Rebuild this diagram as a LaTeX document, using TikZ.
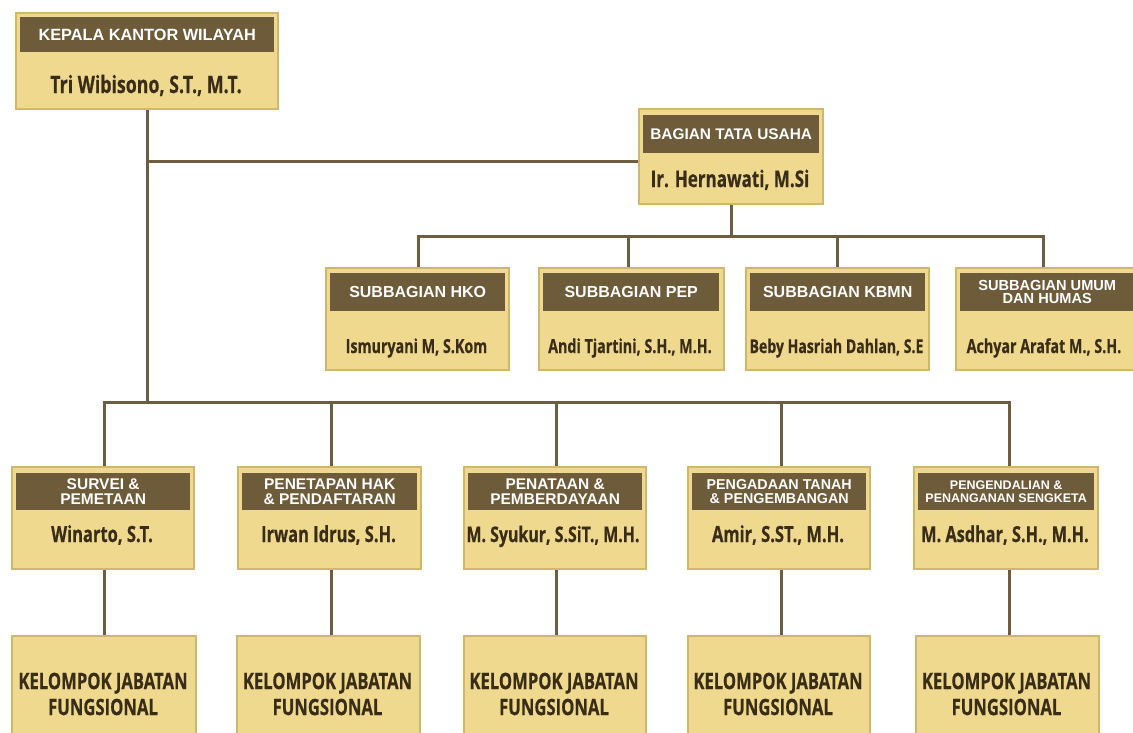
\documentclass[tikz,border=0pt]{standalone}
\usepackage{fontspec}
\setmainfont{Liberation Sans}
\newfontfamily\namefam[FakeStretch=0.74, BoldFeatures={FakeBold=0.5}]{Open Sans}
\usetikzlibrary{backgrounds}
\definecolor{boxfill}{HTML}{EFD98F}
\definecolor{boxline}{HTML}{D1B76B}
\definecolor{hdrfill}{HTML}{6E5B39}
\definecolor{linecol}{HTML}{6E5D40}
\definecolor{txtdark}{HTML}{3A2D17}
\newcommand\hdrsize[2]{\fontsize{#1}{#2}\selectfont\bfseries}
\newcommand\namesize[2]{\namefam\bfseries\fontsize{#1}{#2}\selectfont}
\tikzset{
  orgbox/.style={draw=boxline, line width=2pt, fill=boxfill, anchor=north west, inner sep=0pt, minimum height=102pt},
  hdrbox/.style={fill=hdrfill, anchor=north west, inner sep=0pt, text=white, align=center, minimum height=37pt},
  nametext/.style={text=txtdark, inner sep=0pt, anchor=base},
  kjftext/.style={text=txtdark, inner sep=0pt, align=center, font=\namesize{22.5}{26}},
  conn/.style={draw=linecol, line width=3pt, line cap=rect},
}
\begin{document}
\begin{tikzpicture}[x=1pt,y=-1pt]
\useasboundingbox (0,0) rectangle (1133,732);
% top
\node[orgbox, minimum width=262pt, minimum height=96pt] (K) at (15,12) {};
\node[hdrbox, minimum width=254pt, minimum height=35pt, font=\hdrsize{16.3}{15}] (Kh) at (20,17) {KEPALA KANTOR WILAYAH};
\node[nametext, font=\namesize{24}{25}] (Kn) at (146,93) {Tri Wibisono, S.T., M.T.};
% bagian
\node[orgbox, minimum width=184pt, minimum height=95pt] (B) at (638,108) {};
\node[hdrbox, minimum width=176pt, minimum height=38pt, font=\hdrsize{15.4}{15}] (Bh) at (643,115) {BAGIAN TATA USAHA};
\node[nametext, font=\namesize{23}{25}] (Bn) at (730,187) {Ir. Hernawati, M.Si};
% subbagian
\node[orgbox, minimum width=183pt] (H) at (325,267) {};
\node[hdrbox, minimum width=175pt, minimum height=38pt, font=\hdrsize{16}{15}] (Hh) at (330,273) {SUBBAGIAN HKO};
\node[nametext, font=\namesize{19.3}{20}] (Hn) at (416.5,353) {Ismuryani M, S.Kom};
\node[orgbox, minimum width=185pt] (P) at (538,267) {};
\node[hdrbox, minimum width=176pt, minimum height=38pt, font=\hdrsize{16}{15}] (Ph) at (543,273) {SUBBAGIAN PEP};
\node[nametext, font=\namesize{19.3}{20}] (Pn) at (630,353) {Andi Tjartini, S.H., M.H.};
\node[orgbox, minimum width=183pt] (Kb) at (745,267) {};
\node[hdrbox, minimum width=175pt, minimum height=38pt, font=\hdrsize{16}{15}] (Kbh) at (750,273) {SUBBAGIAN KBMN};
\node[nametext, font=\namesize{19}{20}] (Kbn) at (836.5,353) {Beby Hasriah Dahlan, S.E};
\node[orgbox, minimum width=181pt] (U) at (955,267) {};
\node[hdrbox, minimum width=174pt, minimum height=38pt, font=\hdrsize{14.6}{13.5}] (Uh) at (960,273) {SUBBAGIAN UMUM\\DAN HUMAS};
\node[nametext, font=\namesize{19.3}{20}] (Un) at (1044,353) {Achyar Arafat M., S.H.};
% bidang
\node[orgbox, minimum width=182pt] (S1) at (11,466) {};
\node[hdrbox, minimum width=174pt, font=\hdrsize{15.5}{15}] (S1h) at (16,473) {SURVEI \&\\PEMETAAN};
\node[nametext, font=\namesize{22.3}{24}] (S1n) at (102,542) {Winarto, S.T.};
\node[orgbox, minimum width=183pt] (S2) at (237,466) {};
\node[hdrbox, minimum width=175pt, font=\hdrsize{15.5}{15}] (S2h) at (242,473) {PENETAPAN HAK\\\& PENDAFTARAN};
\node[nametext, font=\namesize{22.3}{24}] (S2n) at (328.5,542) {Irwan Idrus, S.H.};
\node[orgbox, minimum width=182pt] (S3) at (463,466) {};
\node[hdrbox, minimum width=174pt, font=\hdrsize{15.5}{15}] (S3h) at (468,473) {PENATAAN \&\\PEMBERDAYAAN};
\node[nametext, font=\namesize{21.5}{24}] (S3n) at (553,542) {M. Syukur, S.SiT., M.H.};
\node[orgbox, minimum width=182pt] (S4) at (687,466) {};
\node[hdrbox, minimum width=174pt, font=\hdrsize{14.3}{14.5}] (S4h) at (692,473) {PENGADAAN TANAH\\\& PENGEMBANGAN};
\node[nametext, font=\namesize{22.3}{24}] (S4n) at (778,542) {Amir, S.ST., M.H.};
\node[orgbox, minimum width=184pt] (S5) at (913,466) {};
\node[hdrbox, minimum width=176pt, font=\hdrsize{12.5}{13}] (S5h) at (918,473) {PENGENDALIAN \&\\PENANGANAN SENGKETA};
\node[nametext, font=\namesize{22}{24}] (S5n) at (1005,542) {M. Asdhar, S.H., M.H.};
% kelompok jabatan fungsional
\node[orgbox, minimum width=184pt, minimum height=110pt] (J1) at (11,635) {};
\node[kjftext] (J1t) at (103,694) {KELOMPOK JABATAN\\FUNGSIONAL};
\node[orgbox, minimum width=183pt, minimum height=110pt] (J2) at (236,635) {};
\node[kjftext] (J2t) at (327.5,694) {KELOMPOK JABATAN\\FUNGSIONAL};
\node[orgbox, minimum width=182pt, minimum height=110pt] (J3) at (463,635) {};
\node[kjftext] (J3t) at (554,694) {KELOMPOK JABATAN\\FUNGSIONAL};
\node[orgbox, minimum width=182pt, minimum height=110pt] (J4) at (687,635) {};
\node[kjftext] (J4t) at (778,694) {KELOMPOK JABATAN\\FUNGSIONAL};
\node[orgbox, minimum width=183pt, minimum height=110pt] (J5) at (915,635) {};
\node[kjftext] (J5t) at (1006.5,694) {KELOMPOK JABATAN\\FUNGSIONAL};
% connectors
\begin{scope}[on background layer]
\coordinate (kj) at (147,161);
\coordinate (kb) at (147,402);
\draw[conn] (kj |- K.south) -- (kb);
\draw[conn] (kj) -- (kj -| B.west);
\coordinate (c1) at (418,236);
\coordinate (c2) at (628,236);
\coordinate (c3) at (837,236);
\coordinate (c4) at (1043,236);
\draw[conn] (B.south) -- (B.south |- c1);
\draw[conn] (c1 |- H.north) -- (c1) -- (c4) -- (c4 |- U.north);
\draw[conn] (c2) -- (c2 |- P.north);
\draw[conn] (c3) -- (c3 |- Kb.north);
\coordinate (d1) at (104,402);
\coordinate (d2) at (331,402);
\coordinate (d3) at (556,402);
\coordinate (d4) at (781,402);
\coordinate (d5) at (1009,402);
\draw[conn] (d1 |- S1.north) -- (d1) -- (d5) -- (d5 |- S5.north);
\draw[conn] (d2) -- (d2 |- S2.north);
\draw[conn] (d3) -- (d3 |- S3.north);
\draw[conn] (d4) -- (d4 |- S4.north);
\draw[conn] (d1 |- S1.south) -- (d1 |- J1.north);
\draw[conn] (d2 |- S2.south) -- (d2 |- J2.north);
\draw[conn] (d3 |- S3.south) -- (d3 |- J3.north);
\draw[conn] (d4 |- S4.south) -- (d4 |- J4.north);
\draw[conn] (d5 |- S5.south) -- (d5 |- J5.north);
\end{scope}
\end{tikzpicture}
\end{document}
